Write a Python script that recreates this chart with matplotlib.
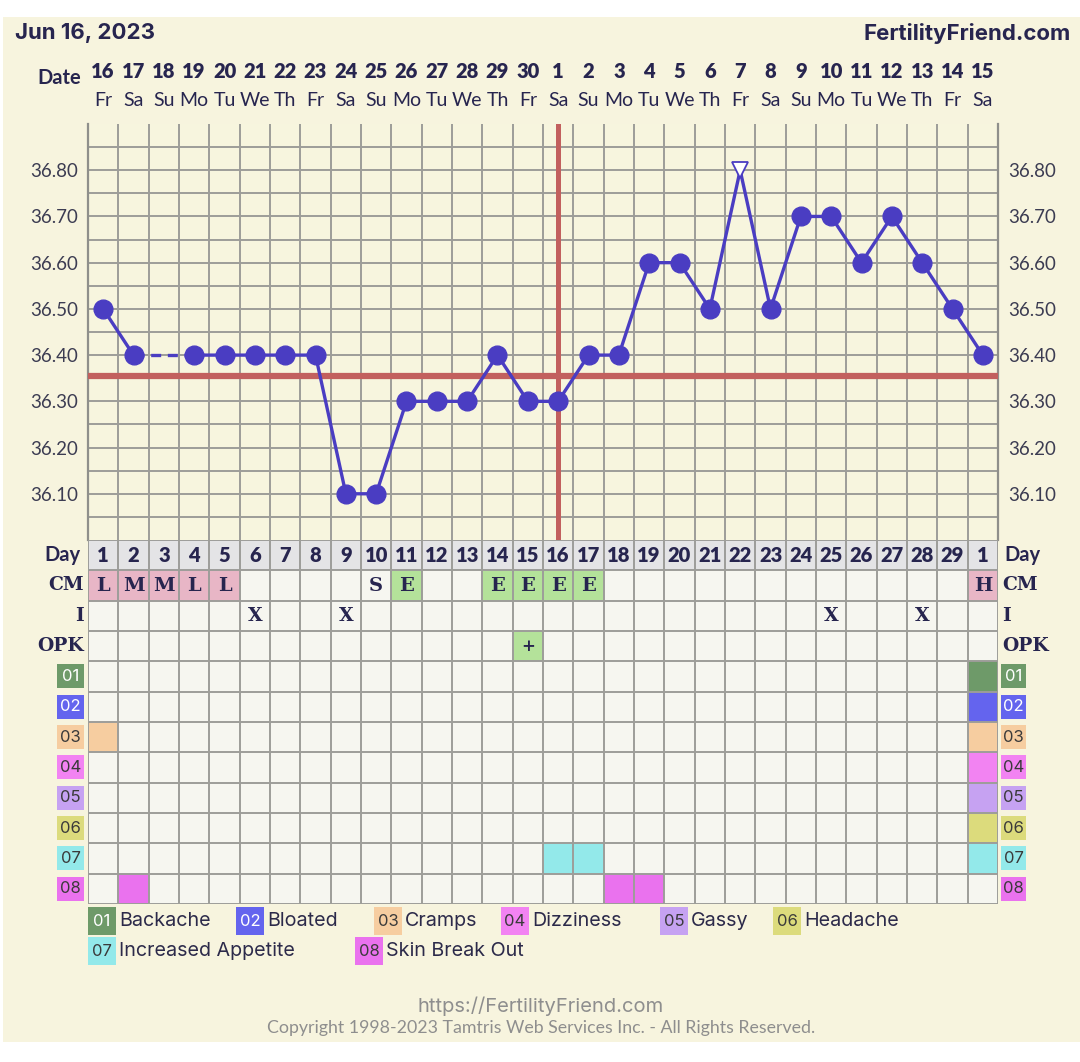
import matplotlib
matplotlib.use("Agg")
import matplotlib.pyplot as plt
from matplotlib.patches import Rectangle
from matplotlib.transforms import blended_transform_factory
import numpy as np

plt.rcParams['font.family'] = ['Lato', 'DejaVu Sans']
wide = ['Inter', 'Lato', 'DejaVu Sans']

W, H = 1080, 1062

# ---- data ----
cycle_days = list(range(1, 31))
day_labels = [str(d) for d in range(1, 30)] + ['1']
dates = ['16', '17', '18', '19', '20', '21', '22', '23', '24', '25', '26', '27', '28', '29', '30',
         '1', '2', '3', '4', '5', '6', '7', '8', '9', '10', '11', '12', '13', '14', '15']
weekdays = ['Fr', 'Sa', 'Su', 'Mo', 'Tu', 'We', 'Th', 'Fr', 'Sa', 'Su', 'Mo', 'Tu', 'We', 'Th', 'Fr',
            'Sa', 'Su', 'Mo', 'Tu', 'We', 'Th', 'Fr', 'Sa', 'Su', 'Mo', 'Tu', 'We', 'Th', 'Fr', 'Sa']
temps = [36.50, 36.40, np.nan, 36.40, 36.40, 36.40, 36.40, 36.40, 36.10, 36.10,
         36.30, 36.30, 36.30, 36.40, 36.30, 36.30, 36.40, 36.40, 36.60, 36.60,
         36.50, 36.80, 36.50, 36.70, 36.70, 36.60, 36.70, 36.60, 36.50, 36.40]
open_days = [22]
coverline = 36.355
ovulation_day = 16

cm_days = [1, 2, 3, 4, 5, 10, 11, 14, 15, 16, 17, 30]
cm_codes = ['L', 'M', 'M', 'L', 'L', 'S', 'E', 'E', 'E', 'E', 'E', 'H']
intercourse_days = [6, 9, 25, 28]
opk_days = [15]
opk_codes = ['+']

sym_codes = ['01', '02', '03', '04', '05', '06', '07', '08']
sym_names = ['Backache', 'Bloated', 'Cramps', 'Dizziness', 'Gassy', 'Headache',
             'Increased Appetite', 'Skin Break Out']
sym_days = [[30], [30], [1, 30], [30], [30], [30], [16, 17, 30], [2, 18, 19]]

# ---- style ----
cream = '#f7f4de'
plot_bg = '#f7f5de'
cell_bg = '#f6f6f0'
day_bg = '#e4e4e6'
grid_c = '#9d9d99'
navy = '#27254f'
line_c = '#4a3dc2'
red_c = '#c2605e'
cm_colors = {'L': '#e8b6c6', 'M': '#e8b6c6', 'H': '#e8b6c6', 'E': '#b4e29a', 'S': cell_bg}
sym_colors = ['#6e9a69', '#6464ee', '#f6cda0', '#f283f2', '#c6a2f2', '#dcdb7c', '#93e9ea', '#ea72ee']
sym_text = ['white', 'white', '#3a3a3a', '#3a3a3a', '#3a3a3a', '#3a3a3a', '#3a3a3a', '#3a3a3a']

fig = plt.figure(figsize=(W / 100, H / 100), dpi=100)
fig.patch.set_facecolor('white')

# overlay in pixel coordinates for labels
ov = fig.add_axes([0, 0, 1, 1], zorder=-1)
ov.set_xlim(0, W)
ov.set_ylim(H, 0)
ov.axis('off')
ov.add_patch(Rectangle((3, 17), W - 3, 1025, color=cream, lw=0))

ov.text(15, 33, 'Jun 16, 2023', fontsize=16, fontweight='bold', family=wide, color=navy,
        va='center', ha='left')
ov.text(1071, 33, 'FertilityFriend.com', fontsize=16, fontweight='bold', family=wide, color=navy,
        va='center', ha='right')
ov.text(81, 78, 'Date', fontsize=14.5, fontweight='bold', color=navy, va='center', ha='right')

# ---- temperature axes ----
ax = fig.add_axes([88 / W, 1 - 540 / H, 910 / W, 416 / H])
ax.set_facecolor(plot_bg)
ax.set_xlim(0.5, 30.5)
ax.set_ylim(36.0, 36.9)
ax.set_xticks([])
ax.set_xticks(np.arange(1.5, 30.5, 1), minor=True)
major = np.round(np.arange(36.1, 36.81, 0.1), 2)
ax.set_yticks(major)
ax.set_yticklabels([f'{v:.2f}' for v in major])
ax.set_yticks(np.round(np.arange(36.05, 36.86, 0.1), 2), minor=True)
ax.tick_params(which='both', length=0)
ax.tick_params(axis='y', which='major', pad=7, labelsize=13.5, labelcolor='#3c3c52',
               labelleft=True, labelright=True)
ax.grid(which='both', color=grid_c, lw=1.4)
ax.set_axisbelow(True)
for s in ['top', 'bottom']:
    ax.spines[s].set_visible(False)
for s in ['left', 'right']:
    ax.spines[s].set_color('#8f8f8b')
    ax.spines[s].set_linewidth(1.6)

ax.axhline(coverline, color=red_c, lw=4.5, zorder=3)
ax.axvline(ovulation_day, color=red_c, lw=3.6, zorder=3)

t = np.array(temps)
x = np.array(cycle_days)
ax.plot(x, t, color=line_c, lw=2.4, zorder=4)
# dashed bridge over missing days
for i in range(1, len(t) - 1):
    if np.isnan(t[i]):
        j = i + 1
        while np.isnan(t[j]):
            j += 1
        ax.plot([x[i - 1], x[j]], [t[i - 1], t[j]], color=line_c, lw=2.4, ls=(0, (3, 2)), zorder=4)
filled = [i for i in range(len(t)) if not np.isnan(t[i]) and x[i] not in open_days]
ax.plot(x[filled], t[filled], 'o', color=line_c, ms=13.5, zorder=5, ls='none')
opened = [i for i in range(len(t)) if x[i] in open_days]
ax.plot(x[opened], t[opened], 'v', mfc='white', mec=line_c, mew=1.3, ms=11, zorder=5, ls='none')

# date header
tr = blended_transform_factory(ax.transData, fig.transFigure)
for d, dt, wd in zip(cycle_days, dates, weekdays):
    ax.text(d, 1 - 71 / H, dt, transform=tr, ha='center', va='center', fontsize=14.5,
            fontweight='heavy', color=navy, clip_on=False)
    ax.text(d, 1 - 101 / H, wd, transform=tr, ha='center', va='center', fontsize=14,
            color=navy, clip_on=False)

# ---- table axes ----
tb = fig.add_axes([88 / W, 1 - 904 / H, 910 / W, 364 / H])
tb.set_xlim(0.5, 30.5)
tb.set_ylim(12, 0)
tb.axis('off')
n_rows = 12
for d in cycle_days:
    tb.add_patch(Rectangle((d - 0.5, 0), 1, 1, color=day_bg, lw=0))
    tb.add_patch(Rectangle((d - 0.5, 1), 1, n_rows - 1, color=cell_bg, lw=0))
for d, c in zip(cm_days, cm_codes):
    tb.add_patch(Rectangle((d - 0.5, 1), 1, 1, color=cm_colors[c], lw=0))
for d, c in zip(opk_days, opk_codes):
    tb.add_patch(Rectangle((d - 0.5, 3), 1, 1, color='#b4e29a', lw=0))
for k, days in enumerate(sym_days):
    for d in days:
        tb.add_patch(Rectangle((d - 0.5, 4 + k), 1, 1, color=sym_colors[k], lw=0))

tb.vlines(np.arange(0.5, 31, 1), 0, n_rows, color=grid_c, lw=1.4, zorder=3)
tb.hlines(np.arange(0, n_rows + 1, 1), 0.5, 30.5, color=grid_c, lw=1.4, zorder=3)

for d, lab in zip(cycle_days, day_labels):
    tb.text(d, 0.52, lab, ha='center', va='center', fontsize=14.5, fontweight='heavy', color=navy)
for d, c in zip(cm_days, cm_codes):
    tb.text(d, 1.52, c, ha='center', va='center', fontsize=14, fontweight='bold',
            family='DejaVu Serif', color=navy)
for d in intercourse_days:
    tb.text(d, 2.52, 'X', ha='center', va='center', fontsize=13.5, fontweight='bold',
            family='DejaVu Serif', color=navy)
for d, c in zip(opk_days, opk_codes):
    tb.text(d, 3.5, c, ha='center', va='center', fontsize=12, fontweight='bold',
            family='DejaVu Serif', color=navy)

# row labels
row_y = [540 + 30.33 * (i + 0.5) for i in range(n_rows)]
ov.text(81, row_y[0], 'Day', fontsize=14.5, fontweight='bold', color=navy, ha='right', va='center')
ov.text(1004, row_y[0], 'Day', fontsize=14.5, fontweight='bold', color=navy, ha='left', va='center')
for i, lab in enumerate(['CM', 'I', 'OPK']):
    ov.text(84, row_y[i + 1], lab, fontsize=13.5, fontweight='bold', family='DejaVu Serif',
            color=navy, ha='right', va='center')
    ov.text(1002, row_y[i + 1], lab, fontsize=13.5, fontweight='bold', family='DejaVu Serif',
            color=navy, ha='left', va='center')
for k, code in enumerate(sym_codes):
    yc = row_y[4 + k]
    ov.add_patch(Rectangle((57, yc - 12), 27, 24, color=sym_colors[k], lw=0))
    ov.text(70.5, yc, code, fontsize=12, family=wide, color=sym_text[k], ha='center', va='center')
    ov.add_patch(Rectangle((1001, yc - 12), 25, 24, color=sym_colors[k], lw=0))
    ov.text(1013.5, yc, code, fontsize=12, family=wide, color=sym_text[k], ha='center', va='center')

# legend
leg_x = [88, 236, 374, 501, 660, 773, 88, 355]
leg_y = [921, 921, 921, 921, 921, 921, 951, 951]
for k, (code, name) in enumerate(zip(sym_codes, sym_names)):
    lx, ly = leg_x[k], leg_y[k]
    ov.add_patch(Rectangle((lx, ly - 14), 28, 28, color=sym_colors[k], lw=0))
    ov.text(lx + 14, ly, code, fontsize=12, family=wide, color=sym_text[k], ha='center', va='center')
    ov.text(lx + 31, ly, name, fontsize=14.2, family=wide, color='#2c2a4a', ha='left', va='center')

ov.text(541, 1006, 'https://FertilityFriend.com', fontsize=14.5, family=wide, color='#8e8e8e',
        ha='center', va='center')
ov.text(541, 1028, 'Copyright 1998-2023 Tamtris Web Services Inc. - All Rights Reserved.',
        fontsize=12.8, color='#8e8e8e', ha='center', va='center')

fig.savefig('out.png', dpi=100, facecolor='white')
